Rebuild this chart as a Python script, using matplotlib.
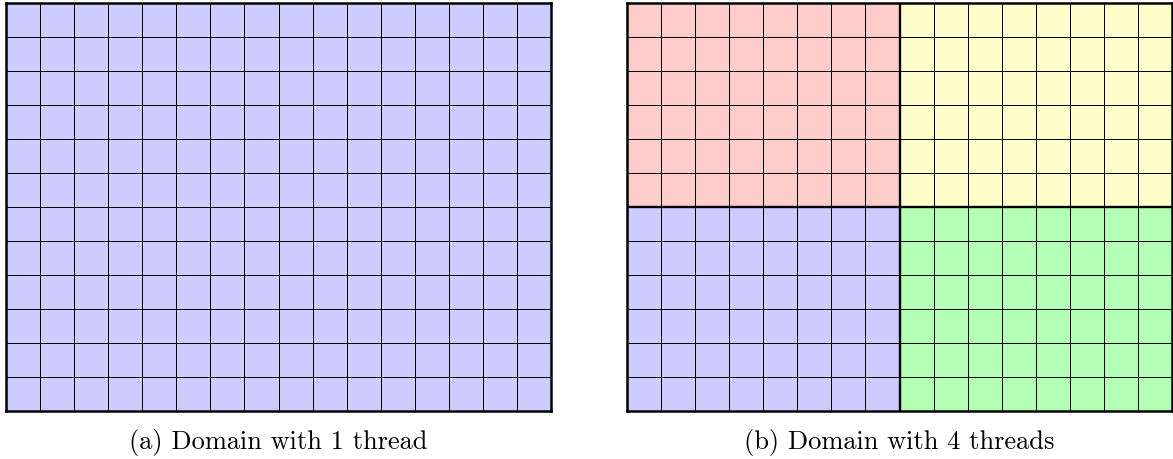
import numpy as np
import matplotlib
matplotlib.use("Agg")
import matplotlib.pyplot as plt
from matplotlib.colors import ListedColormap

# data
nx, ny = 16, 12
thread_colors = ["#ccccff", "#ffcccc", "#ffffcc", "#b3ffb3"]  # blue, red, yellow, green
captions = ["(a) Domain with 1 thread", "(b) Domain with 4 threads"]

# thread id per cell (row 0 = bottom)
single = np.zeros((ny, nx), dtype=int)
four = np.zeros((ny, nx), dtype=int)
four[ny // 2:, :nx // 2] = 1   # top-left red
four[ny // 2:, nx // 2:] = 2   # top-right yellow
four[:ny // 2, nx // 2:] = 3   # bottom-right green
four[:ny // 2, :nx // 2] = 0   # bottom-left blue
layouts = [single, four]
splits = [None, (nx // 2, ny // 2)]

W, H = 1173, 459
fig = plt.figure(figsize=(W / 100, H / 100), dpi=100)
cmap = ListedColormap(thread_colors)

boxes = [(6, 551), (627, 1172)]
top, bottom = 2.5, 411
for (x0, x1), data, split, cap in zip(boxes, layouts, splits, captions):
    ax = fig.add_axes([x0 / W, (H - bottom) / H, (x1 - x0) / W, (bottom - top) / H])
    ax.pcolormesh(np.arange(nx + 1), np.arange(ny + 1), data, cmap=cmap,
                  vmin=-0.5, vmax=3.5, edgecolors="black", linewidth=0.6)
    if split is not None:
        sx, sy = split
        ax.plot([sx, sx], [0, ny], color="black", lw=1.7, solid_capstyle="butt")
        ax.plot([0, nx], [sy, sy], color="black", lw=1.7, solid_capstyle="butt")
    ax.set_xlim(0, nx)
    ax.set_ylim(0, ny)
    ax.set_xticks([])
    ax.set_yticks([])
    for s in ax.spines.values():
        s.set_linewidth(1.8)
    fig.text((x0 + x1) / 2 / W, 1 - 442 / H, cap, ha="center", va="center",
             fontsize=19, family=["cmr10", "DejaVu Serif"])

fig.savefig("out.png", dpi=100)
